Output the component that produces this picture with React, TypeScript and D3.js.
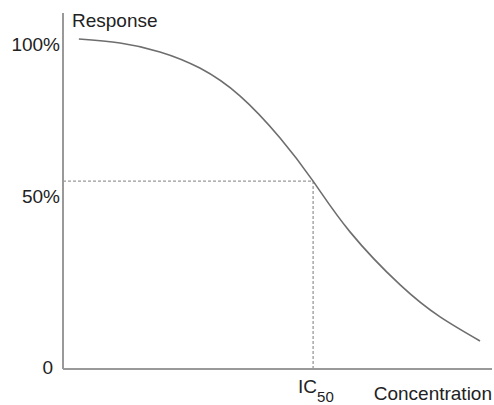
import React from "react";
import * as d3 from "d3";

const concentration = [3.7, 13.3, 22.6, 31.9, 41.3, 50.6, 58.3, 66.9, 78.6, 87.9, 97.2];
const response = [100.1, 98.9, 96.2, 91.3, 82.8, 70.1, 57.0, 41.6, 25.5, 15.8, 8.5];
const tickValues = [0, 52.5, 98.5];
const tickLabels = ["0", "50%", "100%"];
const ic50 = 58.3;
const responseAtIC50 = 57.0;

const W = 494;
const H = 405;

export default function App() {
  const x = d3.scaleLinear().domain([0, 100]).range([63, 492]);
  const y = d3.scaleLinear().domain([0, 108]).range([369, 13]);
  const pts: [number, number][] = concentration.map((c, i) => [c, response[i]]);
  const line = d3
    .line<[number, number]>()
    .x((d) => x(d[0]))
    .y((d) => y(d[1]))
    .curve(d3.curveNatural);
  const font = "'Liberation Sans', Arial, Helvetica, sans-serif";
  const textColor = "#222";
  return (
    <svg
      width={W}
      height={H}
      style={{ position: "absolute", left: 0, top: 0 }}
      fontFamily={font}
    >
      <rect width={W} height={H} fill="#fff" />
      <line
        x1={x(0)}
        x2={x(ic50)}
        y1={y(responseAtIC50)}
        y2={y(responseAtIC50)}
        stroke="#999"
        strokeWidth={1.3}
        strokeDasharray="3 2"
      />
      <line
        x1={x(ic50)}
        x2={x(ic50)}
        y1={y(responseAtIC50)}
        y2={y(0)}
        stroke="#999"
        strokeWidth={1.3}
        strokeDasharray="3 2"
      />
      <path d={line(pts) || ""} fill="none" stroke="#6e6e6e" strokeWidth={1.6} />
      <line x1={x(0)} x2={x(0)} y1={y(108)} y2={y(0)} stroke="#999" strokeWidth={2} />
      <line x1={x(0)} x2={x(100)} y1={y(0)} y2={y(0)} stroke="#999" strokeWidth={2} />
      {tickValues.map((v, i) => (
        <text
          key={i}
          x={i === 0 ? x(0) - 10 : x(0) - 3}
          y={y(v)}
          dy={i === 0 ? "0.25em" : "0.35em"}
          textAnchor="end"
          fontSize={19}
          fill={textColor}
        >
          {tickLabels[i]}
        </text>
      ))}
      <text x={x(0) + 9} y={27} fontSize={19} fill={textColor}>
        Response
      </text>
      <text x={x(ic50) - 15} y={393} fontSize={19} fill={textColor}>
        IC
        <tspan fontSize={15} dy={9}>
          50
        </tspan>
      </text>
      <text x={x(100)} y={400} textAnchor="end" fontSize={19} fill={textColor}>
        Concentration
      </text>
    </svg>
  );
}
